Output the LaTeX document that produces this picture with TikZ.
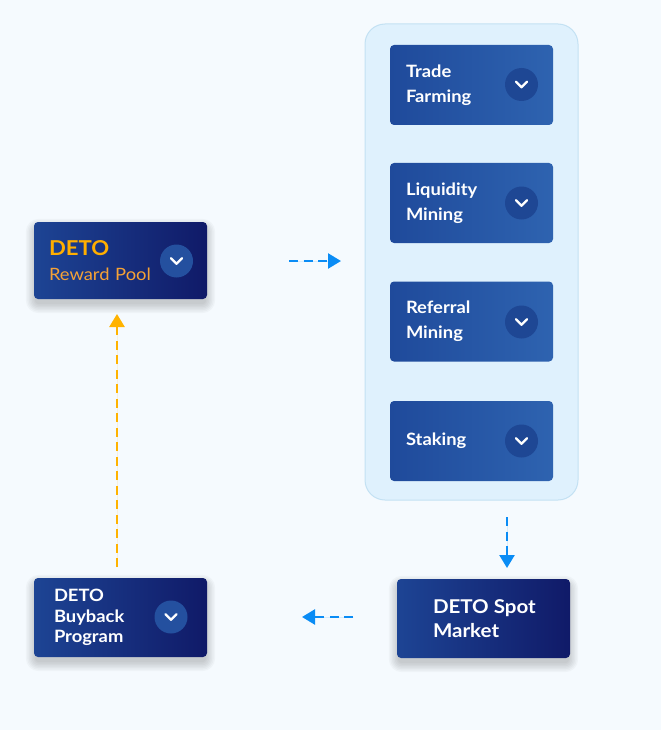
\documentclass[tikz,border=0pt]{standalone}
\usepackage{fontspec}
\setmainfont{Lato}[FakeStretch=1.08]
\usetikzlibrary{arrows.meta,backgrounds}
\definecolor{bg}{HTML}{F5FAFE}
\definecolor{panel}{HTML}{DFF1FD}
\definecolor{panelline}{HTML}{C3E1F3}
\definecolor{darkL}{HTML}{1D4494}
\definecolor{darkR}{HTML}{101A68}
\definecolor{midL}{HTML}{1F4A9B}
\definecolor{midR}{HTML}{2E63B0}
\definecolor{circDark}{HTML}{24509F}
\definecolor{circMid}{HTML}{1E4794}
\definecolor{flowblue}{HTML}{0A8CF5}
\definecolor{flowgold}{HTML}{FFB300}
\definecolor{detogold}{HTML}{FFAE00}
\definecolor{poolgold}{HTML}{F5A236}
\tikzset{
  box/.style={rectangle, rounded corners=4pt, inner ysep=0pt, align=left, text=white},
  darkbox/.style={box, left color=darkL, right color=darkR},
  midbox/.style={box, left color=midL, right color=midR, minimum width=163pt, minimum height=80pt,
    text width=131pt, inner xsep=16pt, font=\bfseries\fontsize{17}{25}\selectfont},
  circ/.style={circle, minimum size=33pt, inner sep=0pt},
  chevron/.style={white, line width=2.2pt, line cap=round, line join=round},
  flow/.style={line width=2.5pt, dash pattern=on 9pt off 5.5pt, -{Triangle[length=13pt,width=15pt]}},
  shade/.style={black, opacity=0.028},
}
\newcommand\chev[1]{\draw[chevron] ([shift={(-5.5,-2.8)}]#1.center) -- ([shift={(0,2.8)}]#1.center) -- ([shift={(5.5,-2.8)}]#1.center);}
\newcommand\softshadow[1]{%
  \begin{scope}[on background layer]
  \foreach \r in {0,1.5,...,9}{
    \fill[shade, rounded corners=4pt+\r] ([shift={(-\r+1,-\r+6)}]#1.north west) rectangle ([shift={(\r-1,\r+5)}]#1.south east);
  }
  \end{scope}}
\begin{document}
\begin{tikzpicture}[x=1pt,y=-1pt]
\begin{scope}[on background layer]
\fill[bg] (0,0) rectangle (661,730);
\end{scope}
\useasboundingbox (0,0) rectangle (661,730);

% panel
\node[draw=panelline, fill=panel, line width=1pt, rounded corners=20pt, minimum width=213pt, minimum height=476pt] (panel) at (471.5,262) {};

% inner boxes
\node[midbox] (trade) at (471.5,85) {Trade\\Farming};
\node[midbox] (liq) at (471.5,203) {Liquidity\\Mining};
\node[midbox] (ref) at (471.5,321.5) {Referral\\Mining};
\node[midbox] (stake) at (471.5,441) {Staking};
\foreach \n/\y in {c1/84.5, c2/203, c3/322, c4/441}{
  \node[circ, fill=circMid] (\n) at (521.5,\y) {};
  \chev{\n}
}

% reward pool
\node[darkbox, minimum width=173pt, minimum height=77pt, text width=143pt, inner xsep=15pt,
  font=\fontsize{17}{25}\selectfont] (pool) at (120.5,260.5)
  {{\color{detogold}\bfseries\fontsize{20.5}{25}\selectfont DETO}\\{\color{poolgold}Reward Pool}};
\node[circ, fill=circDark] (cp) at (176.5,261) {};
\chev{cp}
\softshadow{pool}

% buyback
\node[darkbox, minimum width=173pt, minimum height=79pt, text width=133pt, inner xsep=20pt,
  font=\bfseries\fontsize{17}{20.5}\selectfont] (buy) at (120.5,617.5) {DETO\\Buyback\\Program};
\node[circ, fill=circDark] (cb) at (171,617) {};
\chev{cb}
\softshadow{buy}

% spot market
\node[darkbox, minimum width=173pt, minimum height=79pt] (spot) at (483.5,618.5) {};
\node[anchor=west, inner sep=0pt, align=left, text=white, font=\bfseries\fontsize{19}{24}\selectfont]
  (spotlabel) at ([xshift=36pt]spot.west) {DETO Spot\\Market};
\softshadow{spot}

% connectors
\coordinate (a1s) at (289,261); \coordinate (a1e) at (341,261);
\coordinate (a2s) at (507,517); \coordinate (a2e) at (507,568);
\coordinate (a3s) at (353,617); \coordinate (a3e) at (302,617);
\coordinate (a4s) at (117,567); \coordinate (a4e) at (117,314);
\draw[flow, draw=flowblue, fill=flowblue] (a1s) -- (a1e);
\draw[flow, draw=flowblue, fill=flowblue] (a2s) -- (a2e);
\draw[flow, draw=flowblue, fill=flowblue] (a3s) -- (a3e);
\draw[flow, draw=flowgold, fill=flowgold] (a4s) -- (a4e);
\end{tikzpicture}
\end{document}
